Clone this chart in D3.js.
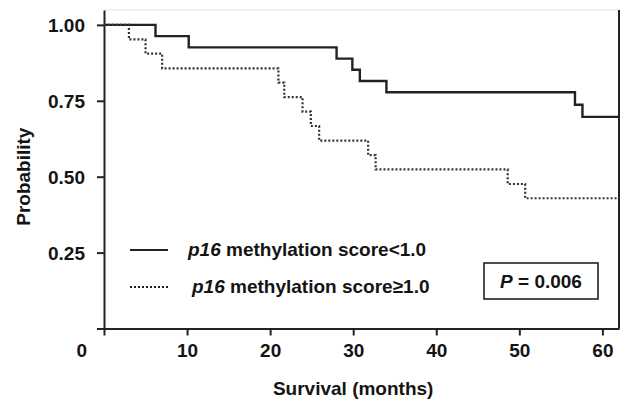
<!DOCTYPE html>
<html>
<head>
<meta charset="utf-8">
<script src="https://cdn.jsdelivr.net/npm/d3@7"></script>
<style>
  html, body { margin: 0; padding: 0; background: #fff; }
  svg { display: block; }
  text { font-family: "Liberation Sans", Arial, Helvetica, sans-serif; font-weight: bold; fill: #141414; }
</style>
</head>
<body>
<svg id="chart" width="622" height="405"></svg>
<script>
// ---- Data ----
const xTicks = [0, 10, 20, 30, 40, 50, 60];
const yTicks = [0, 0.25, 0.50, 0.75, 1.00];
const followUpEnd = 62;

// p16 methylation score < 1.0 (solid)
const lowTimes = [0, 6.2, 10.2, 28.0, 29.9, 30.8, 34.0, 56.7, 57.6];
const lowSurv  = [1.0, 0.963, 0.926, 0.889, 0.852, 0.815, 0.778, 0.737, 0.697];

// p16 methylation score >= 1.0 (dotted)
const highTimes = [0, 3.0, 5.0, 7.0, 21.0, 21.7, 23.9, 24.9, 25.9, 31.8, 32.7, 48.6, 50.7];
const highSurv  = [1.0, 0.952, 0.905, 0.857, 0.810, 0.762, 0.714, 0.667, 0.619, 0.571, 0.524, 0.476, 0.429];

const seriesLabels = ["methylation score<1.0", "methylation score\u22651.0"];
const pValueText = "0.006";

(function () {
// ---- Layout ----
const svg = d3.select("#chart");
const mLeft = 104, mRight = 619, mTop = 10, mBottom = 328.5;

const x = d3.scaleLinear().domain([0, followUpEnd]).range([mLeft, mRight]);
const y = d3.scaleLinear().domain([0, 1.049]).range([mBottom, mTop]);

const ink = "#222";
const fontSize = 19;
const ff = '"Liberation Sans", Arial, sans-serif';

// light top border
svg.append("line")
  .attr("x1", mLeft).attr("x2", mRight).attr("y1", mTop).attr("y2", mTop)
  .attr("stroke", "#e4e4e4").attr("stroke-width", 1);

// right border
svg.append("line")
  .attr("x1", mRight).attr("x2", mRight).attr("y1", mTop).attr("y2", mBottom)
  .attr("stroke", ink).attr("stroke-width", 2);

// X axis
const xAxis = svg.append("g")
  .attr("transform", `translate(0,${mBottom})`)
  .call(d3.axisBottom(x).tickValues(xTicks).tickSize(7).tickSizeOuter(0)
    .tickFormat(d => d === 0 ? "" : d3.format("d")(d)));
xAxis.select(".domain").attr("stroke", ink).attr("stroke-width", 2);
xAxis.selectAll(".tick line").attr("stroke", ink).attr("stroke-width", 2);
xAxis.selectAll(".tick text")
  .attr("font-size", fontSize).attr("dy", null).attr("y", 28.5)
  .style("font-family", ff).style("font-weight", "bold").attr("fill", "#141414");

// Y axis
const yAxis = svg.append("g")
  .attr("transform", `translate(${mLeft},0)`)
  .call(d3.axisLeft(y).tickValues(yTicks).tickSize(7).tickSizeOuter(0)
    .tickFormat(d => d === 0 ? "" : d3.format(".2f")(d)));
yAxis.select(".domain").attr("stroke", ink).attr("stroke-width", 2);
yAxis.selectAll(".tick line").attr("stroke", ink).attr("stroke-width", 2);
yAxis.selectAll(".tick text")
  .attr("font-size", fontSize).attr("x", -19).attr("dy", "0.36em")
  .style("font-family", ff).style("font-weight", "bold").attr("fill", "#141414");

// shared origin label
svg.append("text")
  .attr("x", 87).attr("y", 357).attr("text-anchor", "end")
  .attr("font-size", fontSize).text("0");

// Axis titles
svg.append("text")
  .attr("x", (x(0) + x(60)) / 2).attr("y", 395).attr("text-anchor", "middle")
  .attr("font-size", fontSize).text("Survival (months)");

svg.append("text")
  .attr("transform", `translate(30,${y(0.5)}) rotate(-90)`)
  .attr("text-anchor", "middle")
  .attr("font-size", fontSize).text("Probability");

// ---- Curves ----
function stepData(times, surv) {
  const pts = times.map((t, i) => [t, surv[i]]);
  pts.push([followUpEnd, surv[surv.length - 1]]);
  return pts;
}
const line = d3.line().x(d => x(d[0])).y(d => y(d[1])).curve(d3.curveStepAfter);

svg.append("path")
  .datum(stepData(lowTimes, lowSurv))
  .attr("d", line).attr("fill", "none")
  .attr("stroke", ink).attr("stroke-width", 2.4);

svg.append("path")
  .datum(stepData(highTimes, highSurv))
  .attr("d", line).attr("fill", "none")
  .attr("stroke", "#333").attr("stroke-width", 2.2)
  .attr("stroke-dasharray", "2,2");

// ---- Legend ----
const legendRows = [
  { y: 250, dash: null, textX: 188, label: seriesLabels[0] },
  { y: 287, dash: "2,2", textX: 192, label: seriesLabels[1] }
];
legendRows.forEach(r => {
  svg.append("line")
    .attr("x1", 130).attr("x2", 168).attr("y1", r.y).attr("y2", r.y)
    .attr("stroke", ink).attr("stroke-width", r.dash ? 2 : 2.2)
    .attr("stroke-dasharray", r.dash);
  const t = svg.append("text")
    .attr("x", r.textX).attr("y", r.y + 6)
    .attr("font-size", fontSize);
  t.append("tspan").attr("font-style", "italic").text("p16");
  t.append("tspan").text(" " + r.label);
});

// ---- P value box ----
svg.append("rect")
  .attr("x", 484).attr("y", 263).attr("width", 114).attr("height", 36)
  .attr("fill", "#fff").attr("stroke", ink).attr("stroke-width", 1.6);
const pt = svg.append("text")
  .attr("x", 541).attr("y", 288).attr("text-anchor", "middle")
  .attr("font-size", fontSize);
pt.append("tspan").attr("font-style", "italic").text("P");
pt.append("tspan").text(" = " + pValueText);
})();
</script>
</body>
</html>
